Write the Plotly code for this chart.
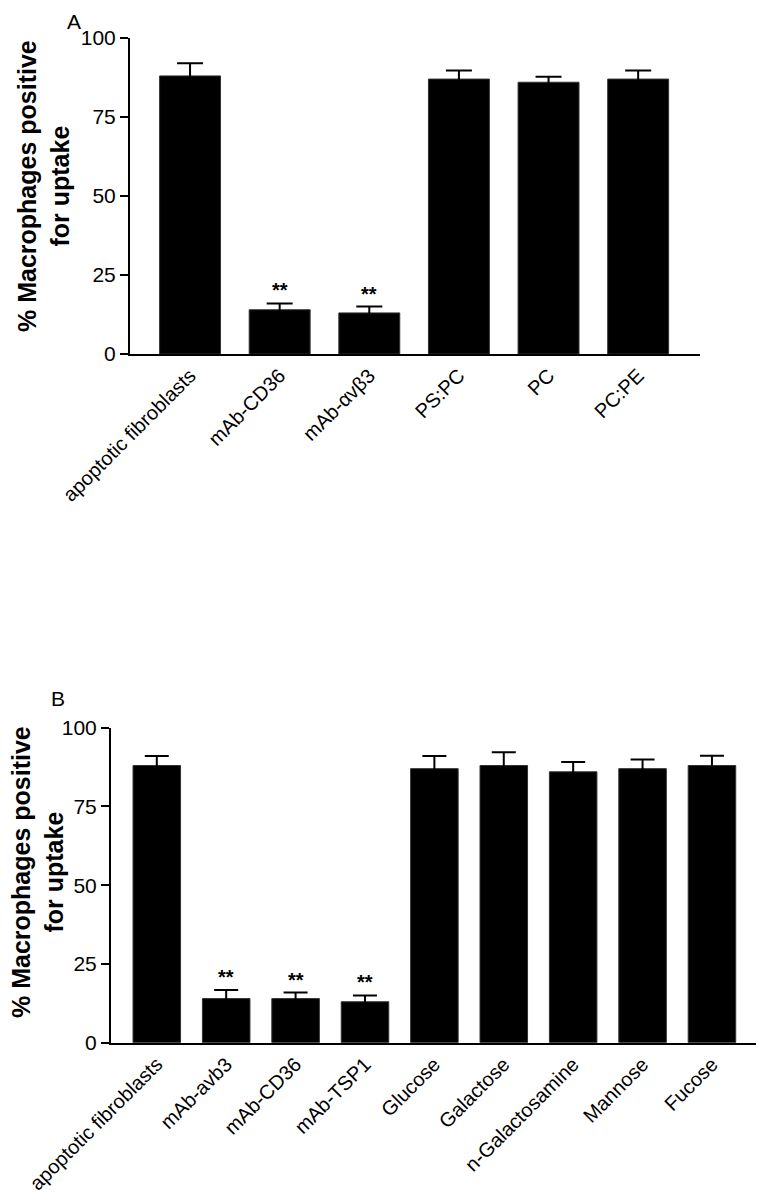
import plotly.graph_objects as go

# Panel A data
cats_a = ["apoptotic fibroblasts", "mAb-CD36", "mAb-αvβ3", "PS:PC", "PC", "PC:PE"]
vals_a = [88, 14, 13, 87, 86, 87]
err_a = [4, 2, 2, 2.7, 1.7, 2.7]
sig_a = ["", "**", "**", "", "", ""]

# Panel B data
cats_b = ["apoptotic fibroblasts", "mAb-avb3", "mAb-CD36", "mAb-TSP1", "Glucose",
          "Galactose", "n-Galactosamine", "Mannose", "Fucose"]
vals_b = [88, 14, 14, 13, 87, 88, 86, 87, 88]
err_b = [3, 2.7, 1.9, 2, 4, 4.2, 3.1, 2.9, 3.1]
sig_b = ["", "**", "**", "**", "", "", "", "", ""]

yticks = [0, 25, 50, 75, 100]
ytitle = "% Macrophages positive<br>for uptake"

FONT = "Liberation Sans, Arial, sans-serif"
W, H = 764, 1200
OFF = 8  # page offset of the figure (body margin)


def px(x):
    return (x - OFF) / W


def py(y):
    return 1 - (y - OFF) / H


fig = go.Figure()
fig.add_trace(go.Bar(x=cats_a, y=vals_a, marker=dict(color="black", line=dict(color="#333", width=1)),
                     width=0.68,
                     error_y=dict(type="data", array=err_a, visible=True, color="black", thickness=2, width=13),
                     xaxis="x", yaxis="y", showlegend=False))
fig.add_trace(go.Bar(x=cats_b, y=vals_b, marker=dict(color="black", line=dict(color="#333", width=1)),
                     width=0.685,
                     error_y=dict(type="data", array=err_b, visible=True, color="black", thickness=2, width=12),
                     xaxis="x2", yaxis="y2", showlegend=False))

ann = []
for c, v, e, s in zip(cats_a, vals_a, err_a, sig_a):
    if s:
        ann.append(dict(x=c, y=v + e, xref="x", yref="y", text="<b>" + s + "</b>", showarrow=False,
                        xanchor="center", yanchor="bottom", font=dict(size=20, color="black", family=FONT)))
for c, v, e, s in zip(cats_b, vals_b, err_b, sig_b):
    if s:
        ann.append(dict(x=c, y=v + e, xref="x2", yref="y2", text="<b>" + s + "</b>", showarrow=False,
                        xanchor="center", yanchor="bottom", font=dict(size=20, color="black", family=FONT)))

ann.append(dict(x=px(74), y=py(9), xref="paper", yref="paper", text="A", showarrow=False,
                xanchor="center", yanchor="top", borderpad=0,
                font=dict(size=21, color="black", family=FONT)))
ann.append(dict(x=px(58), y=py(698), xref="paper", yref="paper", text="B", showarrow=False,
                xanchor="center", yanchor="middle", font=dict(size=21, color="black", family=FONT)))
ann.append(dict(x=px(44), y=py(186), xref="paper", yref="paper", text="<b>" + ytitle + "</b>",
                textangle=-90, showarrow=False, xanchor="center", yanchor="middle",
                font=dict(size=25, color="black", family=FONT)))
ann.append(dict(x=px(37), y=py(872), xref="paper", yref="paper", text="<b>" + ytitle + "</b>",
                textangle=-90, showarrow=False, xanchor="center", yanchor="middle",
                font=dict(size=25, color="black", family=FONT)))

xcommon = dict(type="category", showline=True, linecolor="black", linewidth=2, ticks="",
               tickangle=-45, tickfont=dict(size=20, color="black", family=FONT),
               showgrid=False, zeroline=False, fixedrange=True, automargin=False)
ycommon = dict(range=[0, 100], tickvals=yticks, showline=True, linecolor="black", linewidth=2,
               ticks="outside", ticklen=8, tickwidth=2, tickcolor="black",
               tickfont=dict(size=21, color="black", family=FONT), showgrid=False, zeroline=False,
               automargin=False)

fig.update_layout(
    template="none",
    width=W, height=H, margin=dict(l=0, r=0, t=0, b=0, autoexpand=False),
    paper_bgcolor="white", plot_bgcolor="white",
    xaxis=dict(xcommon, domain=[px(130), px(700)], range=[-0.67, 5.69], anchor="y"),
    yaxis=dict(ycommon, domain=[py(354), py(38)], anchor="x"),
    xaxis2=dict(xcommon, domain=[px(111), 1.0], range=[-0.66, 8.75 + 8 / 69.4], anchor="y2"),
    yaxis2=dict(ycommon, domain=[py(1042.7), py(727.7)], anchor="x2"),
    annotations=ann,
    bargap=0.3,
)

fig.write_html("out.html")
